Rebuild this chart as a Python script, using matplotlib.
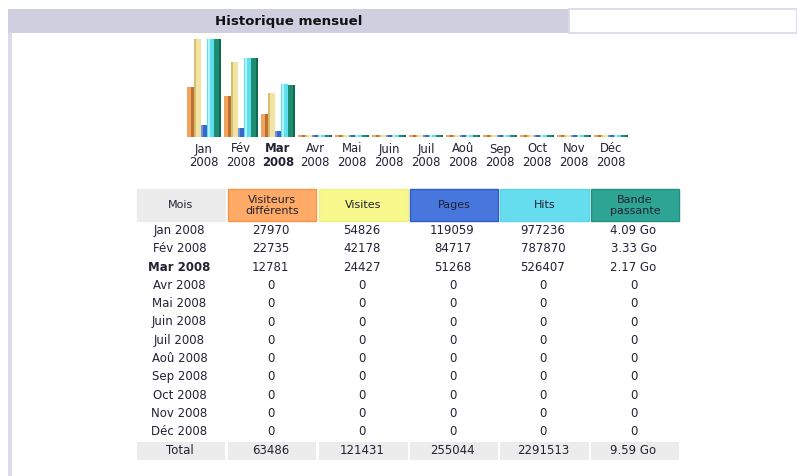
import matplotlib
matplotlib.use("Agg")
import matplotlib.pyplot as plt
from matplotlib.patches import Rectangle
import numpy as np

plt.rcParams['font.family'] = ['DejaVu Sans']

# ---------------- data ----------------
months = ["Jan", "Fév", "Mar", "Avr", "Mai", "Juin", "Juil", "Aoû", "Sep", "Oct", "Nov", "Déc"]
year = "2008"
current_month = "Mar"
visitors = [27970, 22735, 12781, 0, 0, 0, 0, 0, 0, 0, 0, 0]
visits = [54826, 42178, 24427, 0, 0, 0, 0, 0, 0, 0, 0, 0]
pages = [119059, 84717, 51268, 0, 0, 0, 0, 0, 0, 0, 0, 0]
hits = [977236, 787870, 526407, 0, 0, 0, 0, 0, 0, 0, 0, 0]
bandwidth_go = [4.09, 3.33, 2.17, 0, 0, 0, 0, 0, 0, 0, 0, 0]
totals = ["63486", "121431", "255044", "2291513", "9.59 Go"]
headers = ["Mois", "Visiteurs\ndifférents", "Visites", "Pages", "Hits", "Bande\npassante"]
title = "Historique mensuel"

W, H = 797, 476
fig = plt.figure(figsize=(W / 100, H / 100), dpi=100)
fig.patch.set_facecolor("white")

# page overlay axes in pixel coordinates
pg = fig.add_axes([0, 0, 1, 1])
pg.set_xlim(0, W)
pg.set_ylim(H, 0)
pg.axis("off")

# frame
pg.add_patch(Rectangle((8, 9), 561, 24, facecolor="#CFCFE0", edgecolor="none"))
pg.add_patch(Rectangle((569, 9), W - 569, 24, facecolor="white", edgecolor="#D8D8E8", linewidth=1.2))
pg.add_patch(Rectangle((8, 33), 4.5, H - 33, facecolor="#DCDCEC", edgecolor="none"))
pg.text(289, 21, title, ha="center", va="center", fontsize=9.6, fontweight="bold", color="#111111")

# ---------------- bar chart ----------------
x0_px, x1_px = 185.5, 629.5
y_top, y_bot = 39.5, 136.5
bx = fig.add_axes([x0_px / W, 1 - y_bot / H, (x1_px - x0_px) / W, (y_bot - y_top) / H])
bx.set_xlim(-0.5, len(months) - 0.5)
bx.set_ylim(0, 1)
bx.axis("off")

idx = np.arange(len(months))
bw = 0.186
vmax = max(visits)
hmax = max(hits)
kmax = max(bandwidth_go)
series = [
    (np.array(visitors) / vmax, "#EFA55E", "#BE7030", "right"),
    (np.array(visits) / vmax, "#F2E3A2", "#D6BF72", "left"),
    (np.array(pages) / hmax, "#3A66C6", "#6B95E2", "left"),
    (np.array(hits) / hmax, "#5EDFEE", "#B0F4F8", "left"),
    (np.array(bandwidth_go) / kmax, "#1E8C70", "#0F6A52", "right"),
]
min_h = 0.012
for k, (vals, col, shade, side) in enumerate(series):
    pos = idx + (k - 2) * bw
    h = np.maximum(vals, min_h)
    bx.bar(pos, h, width=bw, color=col, edgecolor="none", linewidth=0)
    off = bw * 0.3 if side == "right" else -bw * 0.3
    bx.bar(pos + off, h, width=bw * 0.35, color=shade, edgecolor="none", linewidth=0)

# month labels
for i, m in enumerate(months):
    xc = x0_px + (i + 0.5) * (x1_px - x0_px) / len(months)
    wt = "bold" if m == current_month else "normal"
    pg.text(xc, 149, m, ha="center", va="center", fontsize=8.4, fontweight=wt, color="#222233")
    pg.text(xc, 163, year, ha="center", va="center", fontsize=8.4, fontweight=wt, color="#222233")

# ---------------- table ----------------
col_x = [(137, 225), (228, 316), (319, 408), (410, 498), (500, 589), (591, 679)]
hdr_colors = ["#ECECEC", "#FFAA66", "#F8F88C", "#4777DD", "#66DDEE", "#2EA495"]
hdr_edges = ["#ECECEC", "#F09850", "#F0F080", "#2E5CC0", "#5CD4E6", "#23907F"]
for (a, b), fc, ec, txt in zip(col_x, hdr_colors, hdr_edges, headers):
    pg.add_patch(Rectangle((a, 189), b - a, 32, facecolor=fc, edgecolor=ec, linewidth=1))
    pg.text((a + b) / 2, 205.5, txt, ha="center", va="center", fontsize=8,
            color="#222233", linespacing=1.1)

row_y0, row_dy = 230.5, 18.3
for i, m in enumerate(months):
    y = row_y0 + i * row_dy
    vals = [f"{m} {year}", str(visitors[i]), str(visits[i]), str(pages[i]), str(hits[i]),
            (f"{bandwidth_go[i]:.2f} Go" if bandwidth_go[i] else "0")]
    for j, ((a, b), v) in enumerate(zip(col_x, vals)):
        wt = "bold" if (j == 0 and m == current_month) else "normal"
        pg.text((a + b) / 2 - 1.5, y, v, ha="center", va="center", fontsize=8.5,
                fontweight=wt, color="#222233")

ty = row_y0 + len(months) * row_dy + 0.5
for j, ((a, b), v) in enumerate(zip(col_x, ["Total"] + totals)):
    pg.add_patch(Rectangle((a, ty - 9), b - a, 18, facecolor="#ECECEC", edgecolor="none"))
    pg.text((a + b) / 2 - 1.5, ty, v, ha="center", va="center", fontsize=8.5, color="#222233")

fig.savefig("out.png", dpi=100, facecolor="white")
